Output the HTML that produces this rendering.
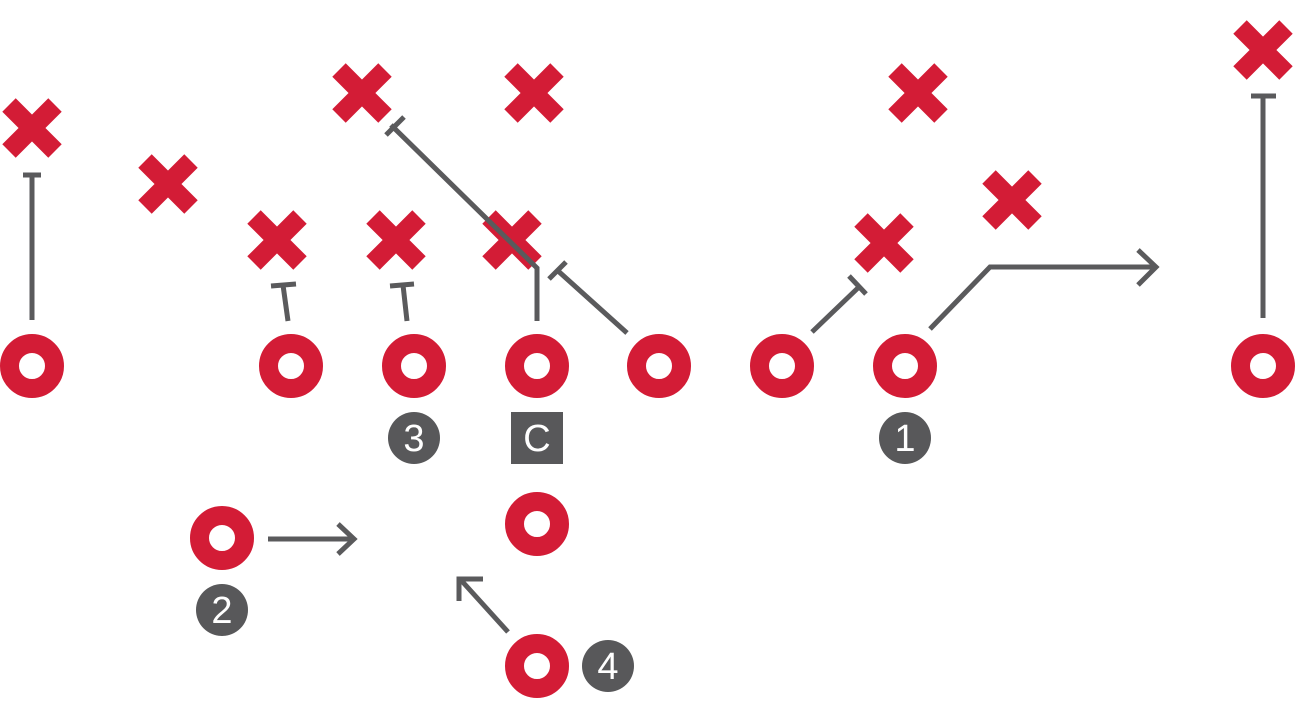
<!DOCTYPE html>
<html><head><style>html,body{margin:0;padding:0;background:#fff;}svg{display:block}</style></head>
<body>
<svg width="1296" height="719" viewBox="0 0 1296 719" xmlns="http://www.w3.org/2000/svg">
<defs>
<g id="x"><path d="M-23,-23L23,23M23,-23L-23,23" stroke="#d31c36" stroke-width="19" fill="none"/></g>
<g id="o"><circle r="22.5" stroke="#d31c36" stroke-width="19" fill="#fff"/></g>
</defs>
<g fill="none" stroke="#5a5a5c" stroke-width="5">
<path d="M32,320V175M23,175H41"/>
<path d="M288,321L283,285M271,286L296,284"/>
<path d="M407,321L403,285M390,286L414,284"/>
<path d="M627,333L557,270M549,279L566,262"/>
<path d="M812,332L860,286M849,276L866,294"/>
<path d="M930,329L990,267H1155M1138,250L1156,267L1138,285"/>
<path d="M1263,318V96M1251,96H1276"/>
<path d="M268,539H352M338,524L354,539L338,554"/>
<path d="M508,632L460,579M459,601L459,579L483,579"/>
</g>
<use href="#x" x="32" y="128"/><use href="#x" x="168" y="184"/><use href="#x" x="277" y="240"/>
<use href="#x" x="396" y="240"/><use href="#x" x="512" y="240"/><use href="#x" x="362" y="93"/>
<use href="#x" x="534" y="93"/><use href="#x" x="918" y="93"/><use href="#x" x="884" y="243"/>
<use href="#x" x="1012" y="200"/><use href="#x" x="1263" y="50"/>
<path d="M537,321V268L391,125M386,135L404,117" fill="none" stroke="#5a5a5c" stroke-width="5"/>
<use href="#o" x="32" y="366"/><use href="#o" x="291" y="366"/><use href="#o" x="414" y="366"/>
<use href="#o" x="537" y="366"/><use href="#o" x="659" y="366"/><use href="#o" x="782" y="366"/>
<use href="#o" x="905" y="366"/><use href="#o" x="1263" y="366"/><use href="#o" x="222" y="538"/>
<use href="#o" x="537" y="524"/><use href="#o" x="537" y="666"/>
<g fill="#58585a">
<circle cx="414" cy="438" r="26"/><circle cx="905" cy="438" r="26"/>
<circle cx="222" cy="610" r="26"/><circle cx="608" cy="666" r="26"/>
<rect x="511" y="412" width="52" height="52"/>
</g>
<g fill="#fff" font-family="Liberation Sans, sans-serif" font-size="38" text-anchor="middle">
<text x="414" y="451">3</text><text x="905" y="451">1</text>
<text x="222" y="623">2</text><text x="608" y="679">4</text>
<text x="537" y="451">C</text>
</g>
</svg>
</body></html>
